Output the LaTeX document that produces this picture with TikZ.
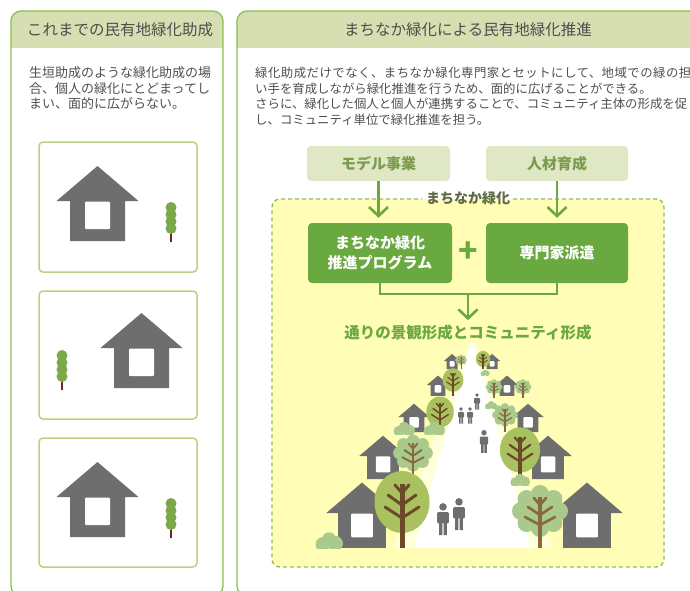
\documentclass[tikz,border=0pt]{standalone}
\usepackage{fontspec}
\newfontfamily\jp{Noto Sans CJK JP}
\usetikzlibrary{arrows.meta}

\definecolor{panelline}{HTML}{8CBD4F}
\definecolor{headfill}{HTML}{D6DEB2}
\definecolor{inktext}{HTML}{4E4E4E}
\definecolor{boxline}{HTML}{B8D480}
\definecolor{housegray}{HTML}{6E6E6E}
\definecolor{cypress}{HTML}{7BA84A}
\definecolor{cypresstrunk}{HTML}{6B2A1E}
\definecolor{palebox}{HTML}{DFE7C4}
\definecolor{paletext}{HTML}{7B9C4E}
\definecolor{leaf}{HTML}{6AA840}
\definecolor{sunny}{HTML}{FFFDB6}
\definecolor{dashline}{HTML}{8FBF5E}
\definecolor{olivecrown}{HTML}{A9C15F}
\definecolor{sagecrown}{HTML}{AAC98C}
\definecolor{darkwood}{HTML}{6C4A27}
\definecolor{lightwood}{HTML}{87683F}
\definecolor{glow}{HTML}{FFFFDA}
\definecolor{labelink}{HTML}{5E6C46}

% house: apex centre x, eave line y, scale
\newcommand\house[3]{%
  \begin{scope}[shift={(#1,#2)},scale=#3]
    \fill[housegray] (-41,0) -- (0,-35) -- (41,0) -- (27.5,0) -- (27.5,40)
      -- (-27.5,40) -- (-27.5,0) -- cycle;
    \fill[white,rounded corners=1] (-12.5,0.6) rectangle (12.5,28);
  \end{scope}}

% slim columnar tree: centre x, top y
\newcommand\cypresstree[2]{%
  \fill[cypresstrunk] (#1-1.3,#2+28) rectangle (#1+1.3,#2+40);
  \foreach \k in {5.5,12.5,19.5,26.5}
    \fill[cypress] (#1,#2+\k) circle [radius=5.5];}

% olive tree with oval crown: centre x, centre y, scale, trunk end (local)
\newcommand\olivetree[4]{%
  \begin{scope}[shift={(#1,#2)},scale=#3]
    \fill[olivecrown] (0,0) ellipse [x radius=27.5,y radius=31];
    \draw[darkwood,line width=#3*5pt] (0,-18) -- (0,#4);
    \draw[darkwood,line width=#3*3pt,line cap=round]
      (0,-9) -- (-7,-17) (0,-9) -- (7,-17)
      (0,3) -- (-14,-7) (0,3) -- (14,-7)
      (0,16) -- (-17,5) (0,16) -- (17,5);
  \end{scope}}

% bushy tree with cloud crown: centre x, centre y, scale, trunk end (local)
\newcommand\sagetree[4]{%
  \begin{scope}[shift={(#1,#2)},scale=#3]
    \fill[sagecrown] (0,0) ellipse [x radius=20,y radius=18];
    \foreach \a in {0,45,...,315}
      \fill[sagecrown] ({19*cos(\a)},{17*sin(\a)}) circle [radius=9];
    \draw[lightwood,line width=#3*4pt] (0,-14) -- (0,#4);
    \draw[lightwood,line width=#3*2.6pt,line cap=round]
      (0,-6) -- (-6,-13) (0,-6) -- (6,-13)
      (0,4) -- (-12,-4) (0,4) -- (12,-4)
      (0,14) -- (-15,6) (0,14) -- (15,6);
  \end{scope}}

% low shrub: centre x, ground y, scale
\newcommand\shrub[3]{%
  \begin{scope}[shift={(#1,#2)},scale=#3]
    \clip (-18,-22) rectangle (18,0);
    \fill[sagecrown] (-7,-4) circle [radius=8] (7,-5) circle [radius=8.5]
      (0,-10) circle [radius=7.5];
  \end{scope}}

% walking figure: centre x, head top y, scale
\newcommand\walker[3]{%
  \begin{scope}[shift={(#1,#2)},scale=#3]
    \fill[housegray] (0,4) circle [radius=3.9];
    \fill[housegray,rounded corners=1] (-6,9.5) rectangle (6,21);
    \fill[housegray] (-4,20) rectangle (-0.6,33) (0.6,20) rectangle (4,33);
  \end{scope}}

\tikzset{
  headtext/.style={font=\jp\fontsize{15.5}{18}\selectfont,text=inktext,inner sep=0},
  leftbody/.style={font=\jp\fontsize{13}{15}\selectfont,text=inktext,anchor=west,inner sep=0},
  rightbody/.style={font=\jp\fontsize{12.4}{15}\selectfont,text=inktext,anchor=west,inner sep=0},
  panel/.style={draw=panelline,line width=1.3pt,rounded corners=10pt},
  picbox/.style={draw=boxline,line width=1.5pt,fill=white,rounded corners=4pt},
  sourcebox/.style={fill=palebox,rounded corners=4pt,inner sep=0,
    font=\jp\bfseries\fontsize{15}{18}\selectfont,text=paletext},
  actionbox/.style={fill=leaf,rounded corners=4pt,inner sep=0,align=center,
    font=\jp\bfseries\fontsize{15}{20}\selectfont,text=white},
  conn/.style={draw=leaf,line width=2.6pt},
  flowarrow/.style={conn,-{Straight Barb[length=9pt,width=19pt]}},
}

\begin{document}
\begin{tikzpicture}[x=1pt,y=-1pt]
\useasboundingbox (0,0) rectangle (690,590);
\clip (0,0) rectangle (690,590);

% ---- left panel: conventional greening subsidy ----
\begin{scope}
  \clip[rounded corners=10pt] (11,11) rectangle (223,596);
  \fill[headfill] (11,11) rectangle (223,48);
\end{scope}
\draw[panel] (11,11) rectangle (223,596);
\node[headtext] (lefttitle) at (120,30) {これまでの民有地緑化助成};
\node[leftbody] (lt1) at (29,73) {生垣助成のような緑化助成の場};
\node[leftbody] (lt2) at (29,89) {合、個人の緑化にとどまってし};
\node[leftbody] (lt3) at (29,104) {まい、面的に広がらない。};

\draw[picbox] (39,142) rectangle (197,272);
\draw[picbox] (39,291) rectangle (197,419);
\draw[picbox] (39,438) rectangle (197,567);
\house{97.5}{201}{1}
\cypresstree{171}{202}
\house{141.5}{348}{1}
\cypresstree{62}{350}
\house{97.5}{497}{1}
\cypresstree{171}{498}

% ---- right panel: machinaka greening ----
\begin{scope}
  \clip[rounded corners=10pt] (237,11) rectangle (720,596);
  \fill[headfill] (237,11) rectangle (720,48);
\end{scope}
\draw[panel] (237,11) rectangle (720,596);
\node[headtext] (righttitle) at (468,30) {まちなか緑化による民有地緑化推進};
\node[rightbody] (rt1) at (255,73) {\addfontfeature{LetterSpace=3.8}緑化助成だけでなく、まちなか緑化専門家とセットにして、地域での緑の担};
\node[rightbody] (rt2) at (255,89) {い手を育成しながら緑化推進を行うため、面的に広げることができる。};
\node[rightbody] (rt3) at (255,104) {さらに、緑化した個人と個人が連携することで、コミュニティ主体の形成を促};
\node[rightbody] (rt4) at (255,120) {し、コミュニティ単位で緑化推進を担う。};

% dashed programme area
\fill[sunny,rounded corners=8pt] (272,199) rectangle (664,567);
\draw[dashline,line width=1.4pt,dash pattern=on 4pt off 3pt,rounded corners=8pt]
  (513,199) -- (664,199) -- (664,567) -- (272,567) -- (272,199) -- (422,199);
\node[font=\jp\bfseries\fontsize{14}{16}\selectfont,text=labelink,inner sep=0]
  (arealabel) at (468,198) {まちなか緑化};

\node[sourcebox,minimum width=143pt,minimum height=35pt] (model) at (378.5,163.5) {モデル事業};
\node[sourcebox,minimum width=142pt,minimum height=35pt] (talent) at (557,163.5) {人材育成};
\node[actionbox,minimum width=144pt,minimum height=60pt] (program) at (380,253) {まちなか緑化\\推進プログラム};
\node[actionbox,minimum width=142pt,minimum height=60pt] (experts) at (557,253) {専門家派遣};
\node[font=\jp\bfseries\fontsize{32}{32}\selectfont,text=leaf,inner sep=0] (plus) at (468,252) {+};
\node[font=\jp\bfseries\fontsize{15.5}{18}\selectfont,text=leaf,inner sep=1pt] (result) at (468,333)
  {通りの景観形成とコミュニティ形成};

\draw[flowarrow,shorten >=5pt] (model.south) -- (model.south |- program.north);
\draw[flowarrow,shorten >=5pt] (talent.south) -- (talent.south |- experts.north);
\coordinate (junction) at (468,294);
\draw[conn] (program.south) |- (junction) -| (experts.south);
\draw[flowarrow,shorten >=4pt] (junction) -- (junction |- result.north);

% ---- street scene ----
\fill[glow] (470,342) -- (475,342) -- (552,548) -- (393,548) -- cycle;
\fill[white] (470.5,345) -- (473.5,345) -- (531,548) -- (414,548) -- cycle;

% far row
\house{452}{361}{0.2}
\house{492}{361}{0.2}
\sagetree{461}{360}{0.22}{41}
\olivetree{483}{359}{0.26}{38}
\shrub{485}{375}{0.3}
% fourth row
\house{438}{385}{0.27}
\house{507}{385}{0.27}
\olivetree{453}{380}{0.38}{42}
\sagetree{494}{387}{0.3}{37}
\sagetree{523}{387}{0.3}{37}
% third row
\house{414}{417}{0.38}
\house{528}{417}{0.38}
\shrub{491}{408}{0.4}
\sagetree{505}{415}{0.46}{37}
\olivetree{440}{412}{0.5}{36}
\shrub{404}{434}{0.7}
\shrub{434}{434}{0.7}
% people on the street
\walker{477}{393}{0.5}
\walker{461}{407}{0.5}
\walker{470}{407}{0.5}
\walker{484}{430}{0.69}
% second row
\house{383}{456}{0.58}
\house{548}{456}{0.58}
\sagetree{413}{453}{0.71}{34}
\olivetree{520}{450}{0.73}{38}
\shrub{520}{485}{0.65}
% front row
\house{362}{513}{0.87}
\house{587}{513}{0.87}
\olivetree{402}{502}{1}{46}
\sagetree{540}{511}{1}{37}
\shrub{329}{548}{0.9}
\walker{443}{503}{0.97}
\walker{459}{498}{0.97}

\end{tikzpicture}
\end{document}
